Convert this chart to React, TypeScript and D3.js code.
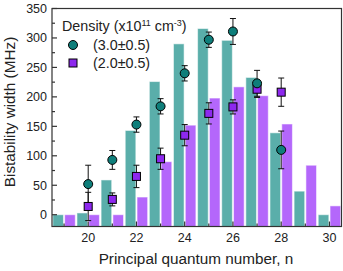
import React from 'react';
import * as d3 from 'd3';

const barN = [19, 20, 21, 22, 23, 24, 25, 26, 27, 28, 29, 30];
const barHigh = [0, 3, 59, 143, 226, 290, 316, 296, 233, 139, 40, 0];
const barLow = [0, 0, 0, 30, 90, 152, 198, 217, 202, 154, 84, 15];

const ptN = [20, 21, 22, 23, 24, 25, 26, 27, 28];
const ptHigh = [52, 93, 153, 184, 240, 297, 311, 223, 110];
const ptHighErr = [32, 16, 13, 13, 13, 13, 22, 22, 32];
const ptLow = [14, 26, 65, 95, 135, 172, 183, 213, 208];
const ptLowErr = [24, 11, 19, 18, 18, 18, 12, 14, 24];

const xTicks = [20, 22, 24, 26, 28, 30];
const yTicks = [0, 50, 100, 150, 200, 250, 300, 350];

const W = 343;
const H = 271;
const m = { left: 52, right: 1.5, top: 8.5, bottom: 44.5 };
const font = 'Liberation Sans, Arial, sans-serif';

const tealBar = '#5aaeaa';
const purpleBar = '#b467fb';
const tealDot = '#0e7e7a';
const purpleDot = '#8d28ee';

export default function App() {
  const x = d3.scaleLinear().domain([18.5, 30.5]).range([m.left, W - m.right]);
  const y = d3.scaleLinear().domain([-20, 350]).range([H - m.bottom, m.top]);
  const bw = x(0.44) - x(0);
  const y0 = y(-20);
  const axis = '#333';

  const minorX = d3.range(19, 31, 1);
  const minorY = d3.range(0, 351, 25);

  return (
    <svg width={W} height={H} style={{ position: 'absolute', left: 0, top: 0, background: '#fff' }} fontFamily={font}>
      {/* bars */}
      {barN.map((n, i) => (
        <g key={'b' + n}>
          <rect x={x(n - 0.245) - bw / 2} y={y(barHigh[i])} width={bw} height={y0 - y(barHigh[i])}
            fill={tealBar} stroke="#fff" strokeOpacity={0.55} strokeWidth={1} />
          <rect x={x(n + 0.245) - bw / 2} y={y(barLow[i])} width={bw} height={y0 - y(barLow[i])}
            fill={purpleBar} stroke="#fff" strokeOpacity={0.55} strokeWidth={1} />
        </g>
      ))}

      {/* error bars */}
      {ptN.map((n, i) => (
        <g key={'e' + n} stroke="#111" strokeWidth={1}>
          {[[ptHigh[i], ptHighErr[i]], [ptLow[i], ptLowErr[i]]].map(([v, e], j) => (
            <g key={j}>
              <line x1={x(n)} x2={x(n)} y1={y(v - e)} y2={y(v + e)} />
              <line x1={x(n) - 3} x2={x(n) + 3} y1={y(v - e)} y2={y(v - e)} />
              <line x1={x(n) - 3} x2={x(n) + 3} y1={y(v + e)} y2={y(v + e)} />
            </g>
          ))}
        </g>
      ))}

      {/* markers */}
      {ptN.map((n, i) => (
        <g key={'p' + n}>
          <rect x={x(n) - 4} y={y(ptLow[i]) - 4} width={8} height={8} fill={purpleDot} stroke="#000" strokeWidth={1} />
          <circle cx={x(n)} cy={y(ptHigh[i])} r={4.5} fill={tealDot} stroke="#000" strokeWidth={1} />
        </g>
      ))}

      {/* frame */}
      <rect x={m.left} y={m.top} width={W - m.right - m.left} height={y0 - m.top} fill="none" stroke={axis} strokeWidth={1.2} />

      {/* x ticks */}
      {minorX.map((t) => (
        <line key={'xt' + t} x1={x(t)} x2={x(t)} y1={y0} y2={y0 - (t % 2 === 0 ? 5 : 3)} stroke={axis} strokeWidth={1.2} />
      ))}
      {xTicks.map((t) => (
        <text key={'xl' + t} x={x(t)} y={y0 + 15.5} textAnchor="middle" fontSize={12.5} fill="#222">{t}</text>
      ))}

      {/* y ticks */}
      {minorY.map((t) => (
        <line key={'yt' + t} x1={m.left} x2={m.left + (t % 50 === 0 ? 5 : 3)} y1={y(t)} y2={y(t)} stroke={axis} strokeWidth={1.2} />
      ))}
      {yTicks.map((t) => (
        <text key={'yl' + t} x={m.left - 5} y={y(t)} dy="0.35em" textAnchor="end" fontSize={12.5} fill="#222">{t}</text>
      ))}

      {/* axis titles */}
      <text x={196} y={264} textAnchor="middle" fontSize={15.3} fill="#222">Principal quantum number, n</text>
      <text transform={`translate(14.5,112) rotate(-90)`} textAnchor="middle" fontSize={15.3} fill="#222">Bistability width (MHz)</text>

      {/* legend */}
      <text x={62} y={31} fontSize={14.3} fill="#222">
        Density (x10<tspan dy={-5.5} fontSize={9}>11</tspan><tspan dy={5.5}> cm</tspan><tspan dy={-5.5} fontSize={9}>-3</tspan><tspan dy={5.5}>)</tspan>
      </text>
      <circle cx={73} cy={45} r={4.5} fill={tealDot} stroke="#000" strokeWidth={1} />
      <text x={93} y={50} fontSize={14.3} fill="#222">(3.0±0.5)</text>
      <rect x={69} y={59} width={8} height={8} fill={purpleDot} stroke="#000" strokeWidth={1} />
      <text x={93} y={68} fontSize={14.3} fill="#222">(2.0±0.5)</text>
    </svg>
  );
}
